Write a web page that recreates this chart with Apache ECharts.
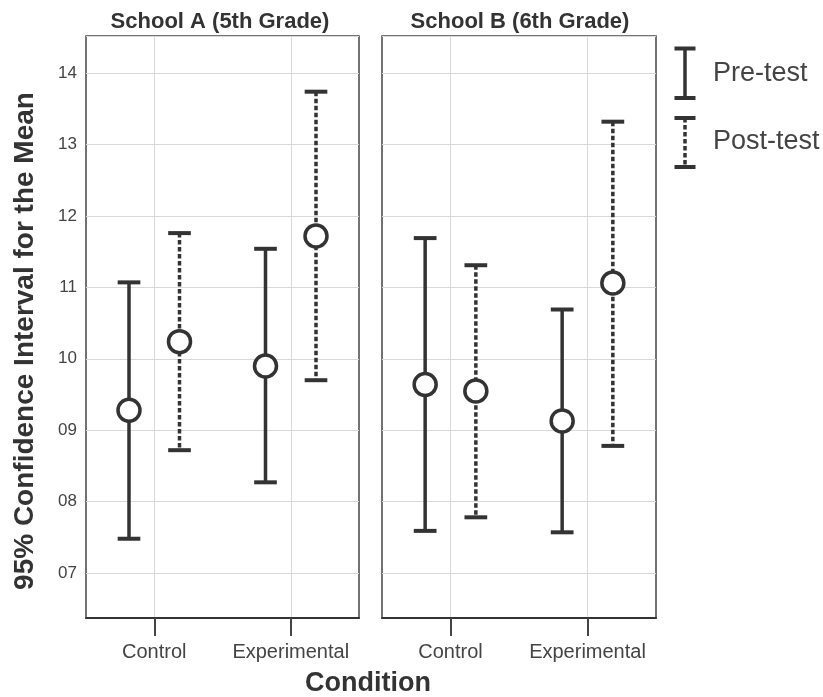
<!DOCTYPE html>
<html>
<head>
<meta charset="utf-8">
<script src="https://cdn.jsdelivr.net/npm/echarts@6/dist/echarts.min.js"></script>
<style>
html,body{margin:0;padding:0;background:#fff;}
#chart{width:823px;height:697px;}
</style>
</head>
<body>
<div id="chart"></div>
<script>
// ---- data ----
const categories = ['Control', 'Experimental'];
const panelTitles = ['School A (5th Grade)', 'School B (6th Grade)'];
const seriesNames = ['Pre-test', 'Post-test'];

const schoolA_pre_low  = [7.48, 8.27];
const schoolA_pre_mean = [9.28, 9.90];
const schoolA_pre_high = [11.07, 11.54];
const schoolA_post_low  = [8.72, 9.70];
const schoolA_post_mean = [10.24, 11.72];
const schoolA_post_high = [11.76, 13.74];

const schoolB_pre_low  = [7.59, 7.57];
const schoolB_pre_mean = [9.64, 9.13];
const schoolB_pre_high = [11.69, 10.69];
const schoolB_post_low  = [7.78, 8.78];
const schoolB_post_mean = [9.55, 11.06];
const schoolB_post_high = [11.31, 13.32];

const yMin = 6.37, yMax = 14.52;

// ---- styling ----
const FONT = "'Liberation Sans', Arial, Helvetica, sans-serif";
const INK = '#333333';
const TXT = '#444444';
const GRIDC = '#d9d9d9';
const DODGE = 0.185;   // fraction of category band
const CAP = 0.083;     // half cap width, fraction of band
const LW = 3.5;
const DASH = [4.5, 2.5];

function rows(lo, mid, hi) {
  return categories.map((c, i) => [c, lo[i], mid[i], hi[i]]);
}

function makeRender(side, dashed) {
  return function (params, api) {
    const c = api.value(0);
    const lo = api.coord([c, api.value(1)]);
    const mid = api.coord([c, api.value(2)]);
    const hi = api.coord([c, api.value(3)]);
    const band = api.size([1, 0])[0];
    const x = lo[0] + side * band * DODGE;
    const ch = band * CAP;
    const lineStyle = { stroke: INK, lineWidth: LW, lineDash: dashed ? DASH : null };
    return {
      type: 'group',
      children: [
        { type: 'line', shape: { x1: x, y1: hi[1], x2: x, y2: lo[1] }, style: lineStyle },
        { type: 'line', shape: { x1: x - ch, y1: hi[1], x2: x + ch, y2: hi[1] }, style: { stroke: INK, lineWidth: 4 } },
        { type: 'line', shape: { x1: x - ch, y1: lo[1], x2: x + ch, y2: lo[1] }, style: { stroke: INK, lineWidth: 4 } },
        { type: 'circle', shape: { cx: x, cy: mid[1], r: 11 }, style: { fill: '#fff', stroke: INK, lineWidth: 3.5 } }
      ]
    };
  };
}

const grids = [
  { left: 86, top: 36, width: 273, height: 582 },
  { left: 382, top: 36, width: 274, height: 582 }
].map(g => Object.assign(g, { show: true, borderColor: '#444', borderWidth: 1.5, backgroundColor: '#fff', containLabel: false, outerBoundsMode: 'none' }));

const xAxes = [0, 1].map(i => ({
  type: 'category', gridIndex: i, data: categories, boundaryGap: true,
  axisLine: { show: true, lineStyle: { color: INK, width: 2 } },
  axisTick: { show: true, interval: 0, alignWithLabel: true, length: 18, lineStyle: { color: TXT, width: 2 } },
  axisLabel: { interval: 0, hideOverlap: false, color: TXT, fontSize: 20, fontFamily: FONT, margin: 24 },
  splitLine: { show: true, interval: 0, alignWithLabel: true, lineStyle: { color: GRIDC, width: 1 } }
}));

const yAxes = [0, 1].map(i => ({
  type: 'value', gridIndex: i, min: yMin, max: yMax, minInterval: 1, maxInterval: 1, splitNumber: 8,
  axisLine: { show: false }, axisTick: { show: false },
  axisLabel: {
    show: i === 0, color: TXT, fontSize: 17, fontFamily: FONT, margin: 9,
    formatter: v => (Math.abs(v - Math.round(v)) < 1e-6 ? String(Math.round(v)).padStart(2, '0') : '')
  },
  splitLine: { show: true, lineStyle: { color: GRIDC, width: 1 } }
}));

const seriesDefs = [
  { name: seriesNames[0], panel: 0, side: -1, dashed: false, data: rows(schoolA_pre_low, schoolA_pre_mean, schoolA_pre_high) },
  { name: seriesNames[1], panel: 0, side: 1, dashed: true, data: rows(schoolA_post_low, schoolA_post_mean, schoolA_post_high) },
  { name: seriesNames[0], panel: 1, side: -1, dashed: false, data: rows(schoolB_pre_low, schoolB_pre_mean, schoolB_pre_high) },
  { name: seriesNames[1], panel: 1, side: 1, dashed: true, data: rows(schoolB_post_low, schoolB_post_mean, schoolB_post_high) }
];

const series = seriesDefs.map(s => ({
  type: 'custom', name: s.name, xAxisIndex: s.panel, yAxisIndex: s.panel,
  renderItem: makeRender(s.side, s.dashed),
  encode: { x: 0, y: [1, 2, 3] },
  data: s.data, clip: false, z: 5
}));

// legend drawn as graphic (icons for solid / dashed error bars)
function legendIcon(x, yTop, yBot, dashed) {
  return [
    { type: 'line', shape: { x1: x, y1: yTop, x2: x, y2: yBot }, style: { stroke: INK, lineWidth: LW, lineDash: dashed ? DASH : null } },
    { type: 'line', shape: { x1: x - 10.5, y1: yTop, x2: x + 10.5, y2: yTop }, style: { stroke: INK, lineWidth: 4 } },
    { type: 'line', shape: { x1: x - 10.5, y1: yBot, x2: x + 10.5, y2: yBot }, style: { stroke: INK, lineWidth: 4 } }
  ];
}

const graphic = [
  { type: 'text', x: 220, y: 22, style: { text: panelTitles[0], font: 'bold 22px ' + FONT, fill: INK, textAlign: 'center', textVerticalAlign: 'middle' } },
  { type: 'text', x: 520, y: 22, style: { text: panelTitles[1], font: 'bold 22px ' + FONT, fill: INK, textAlign: 'center', textVerticalAlign: 'middle' } },
  { type: 'text', x: 368, y: 684, style: { text: 'Condition', font: 'bold 27px ' + FONT, fill: INK, textAlign: 'center', textVerticalAlign: 'middle' } },
  { type: 'text', x: 25, y: 341, rotation: Math.PI / 2, style: { text: '95% Confidence Interval for the Mean', font: 'bold 28px ' + FONT, fill: INK, textAlign: 'center', textVerticalAlign: 'middle' } },
  ...legendIcon(685, 48.5, 98, false),
  ...legendIcon(685, 118, 167, true),
  { type: 'text', x: 713, y: 74, style: { text: seriesNames[0], font: '27px ' + FONT, fill: TXT, textAlign: 'left', textVerticalAlign: 'middle' } },
  { type: 'text', x: 713, y: 142, style: { text: seriesNames[1], font: '27px ' + FONT, fill: TXT, textAlign: 'left', textVerticalAlign: 'middle' } }
];

const chart = echarts.init(document.getElementById('chart'), null, { renderer: 'canvas' });
chart.setOption({
  animation: false,
  backgroundColor: '#fff',
  grid: grids,
  xAxis: xAxes,
  yAxis: yAxes,
  series: series,
  graphic: graphic
});
</script>
</body>
</html>
